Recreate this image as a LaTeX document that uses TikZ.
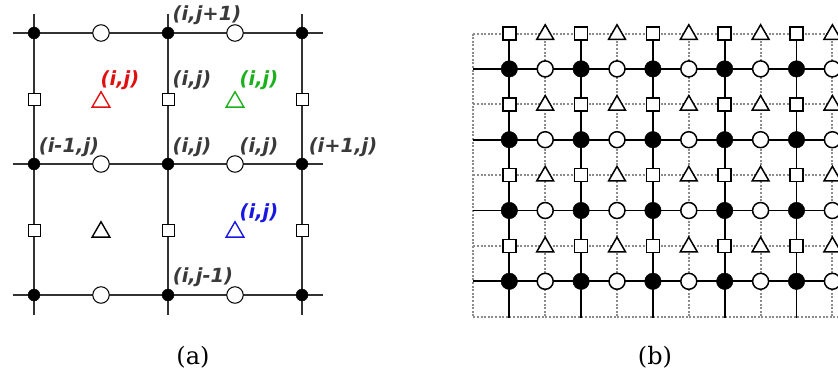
\documentclass[tikz,border=0pt]{standalone}
\usepackage{fontspec}
\setmainfont{DejaVu Serif}
\newfontfamily\labfont{DejaVu Sans}
\usetikzlibrary{shapes.geometric}
\definecolor{agray}{HTML}{333333}
\definecolor{labgray}{HTML}{3A3A3A}
\definecolor{labred}{HTML}{E01010}
\definecolor{labgreen}{HTML}{1CB01C}
\definecolor{labblue}{HTML}{1818E0}
\definecolor{dotgray}{HTML}{8C8C8C}
\begin{document}
\begin{tikzpicture}[x=1pt,y=-1pt,
  agrid/.style={line width=1.5pt, draw=agray},
  adot/.style={circle, fill=black, draw=black, inner sep=0pt, minimum size=12pt},
  acirc/.style={circle, fill=white, draw=black, line width=1pt, inner sep=0pt, minimum size=16.5pt},
  asq/.style={rectangle, fill=white, draw=black, line width=1pt, inner sep=0pt, minimum size=12pt},
  atri/.style={regular polygon, regular polygon sides=3, draw=#1, line width=1.4pt, fill=white, inner sep=0pt, minimum size=20.5pt},
  lab/.style={text=labgray, font=\fontsize{19.5}{22}\labfont\bfseries\itshape, inner sep=0pt},
  bsolid/.style={line width=1.8pt, draw=black},
  bdot/.style={line width=2pt, draw=dotgray, dash pattern=on 2pt off 1.6pt},
  bfdot/.style={circle, fill=black, draw=black, inner sep=0pt, minimum size=16.5pt},
  bcirc/.style={circle, fill=white, draw=black, line width=1.5pt, inner sep=0pt, minimum size=16pt},
  bsq/.style={rectangle, fill=white, draw=black, line width=1.5pt, inner sep=0pt, minimum size=13pt},
  btri/.style={regular polygon, regular polygon sides=3, draw=black, line width=1.5pt, fill=white, inner sep=0pt, minimum size=19.5pt},
  captxt/.style={font=\fontsize{24}{28}\selectfont, inner sep=0pt}
]
\useasboundingbox (0,0) rectangle (838,372);

% ---------------- panel (a) ----------------
\foreach \y in {33,164,295} \draw[agrid] (12.7,\y) -- (323,\y);
\foreach \x in {34,168,302} \draw[agrid] (\x,14) -- (\x,315);

\foreach \x [count=\i] in {34,168,302}
  \foreach \y [count=\j] in {33,164,295}
    \node[adot] (a-d-\i-\j) at (\x,\y) {};
\foreach \x [count=\i] in {101,235}
  \foreach \y [count=\j] in {33,164,295}
    \node[acirc] (a-c-\i-\j) at (\x,\y) {};
\foreach \x [count=\i] in {34,168,302}
  \foreach \y [count=\j] in {99,230}
    \node[asq] (a-s-\i-\j) at (\x,\y) {};
\node[atri=labred]   (a-t-red)   at (101,102) {};
\node[atri=labgreen] (a-t-green) at (235,102) {};
\node[atri=black]    (a-t-black) at (101,232) {};
\node[atri=labblue]  (a-t-blue)  at (235,232) {};

\node[lab] (l-top)    at (207,15)  {(i,j+1)};
\node[lab, text=labred]   (l-red)   at (120,80) {(i,j)};
\node[lab] (l-sq)     at (192,80)  {(i,j)};
\node[lab, text=labgreen] (l-green) at (259,80) {(i,j)};
\node[lab] (l-left)   at (69,147)  {(i-1,j)};
\node[lab] (l-mid)    at (192,147) {(i,j)};
\node[lab] (l-circ)   at (259,147) {(i,j)};
\node[lab] (l-right)  at (343,147) {(i+1,j)};
\node[lab, text=labblue]  (l-blue)  at (259,213) {(i,j)};
\node[lab] (l-bot)    at (203,277) {(i,j-1)};

\node[captxt] (cap-a) at (193,357) {(a)};

% ---------------- panel (b) ----------------
\begin{scope}
\clip (460,0) rectangle (838,372);
% dotted lines
\foreach \k in {0,...,5} {
  \pgfmathsetmacro{\xx}{473.4+71.8*\k}
  \draw[bdot] (\xx,33.5) -- (\xx,316.7);
}
\foreach \k in {0,...,4} {
  \pgfmathsetmacro{\yy}{33.5+70.8*\k}
  \draw[bdot] (473.4,\yy) -- (845,\yy);
}
% solid lines
\foreach \k in {0,...,4} {
  \pgfmathsetmacro{\xx}{509.3+71.8*\k}
  \draw[bsolid] (\xx,33.5) -- (\xx,318);
}
\foreach \k in {0,...,3} {
  \pgfmathsetmacro{\yy}{68.9+70.8*\k}
  \draw[bsolid] (473.4,\yy) -- (845,\yy);
}
% nodes
\foreach \k in {0,...,4} {
  \foreach \r in {0,...,3} {
    \pgfmathsetmacro{\xs}{509.3+71.8*\k}
    \pgfmathsetmacro{\xd}{545.2+71.8*\k}
    \pgfmathsetmacro{\ys}{33.5+70.8*\r}
    \pgfmathsetmacro{\yd}{68.9+70.8*\r}
    \node[bsq]   (b-s-\k-\r) at (\xs,\ys) {};
    \node[btri]  (b-t-\k-\r) at (\xd,\ys+1) {};
    \node[bfdot] (b-d-\k-\r) at (\xs,\yd) {};
    \node[bcirc] (b-c-\k-\r) at (\xd,\yd) {};
  }
}
\end{scope}

\node[captxt] (cap-b) at (655,357) {(b)};
\end{tikzpicture}
\end{document}
